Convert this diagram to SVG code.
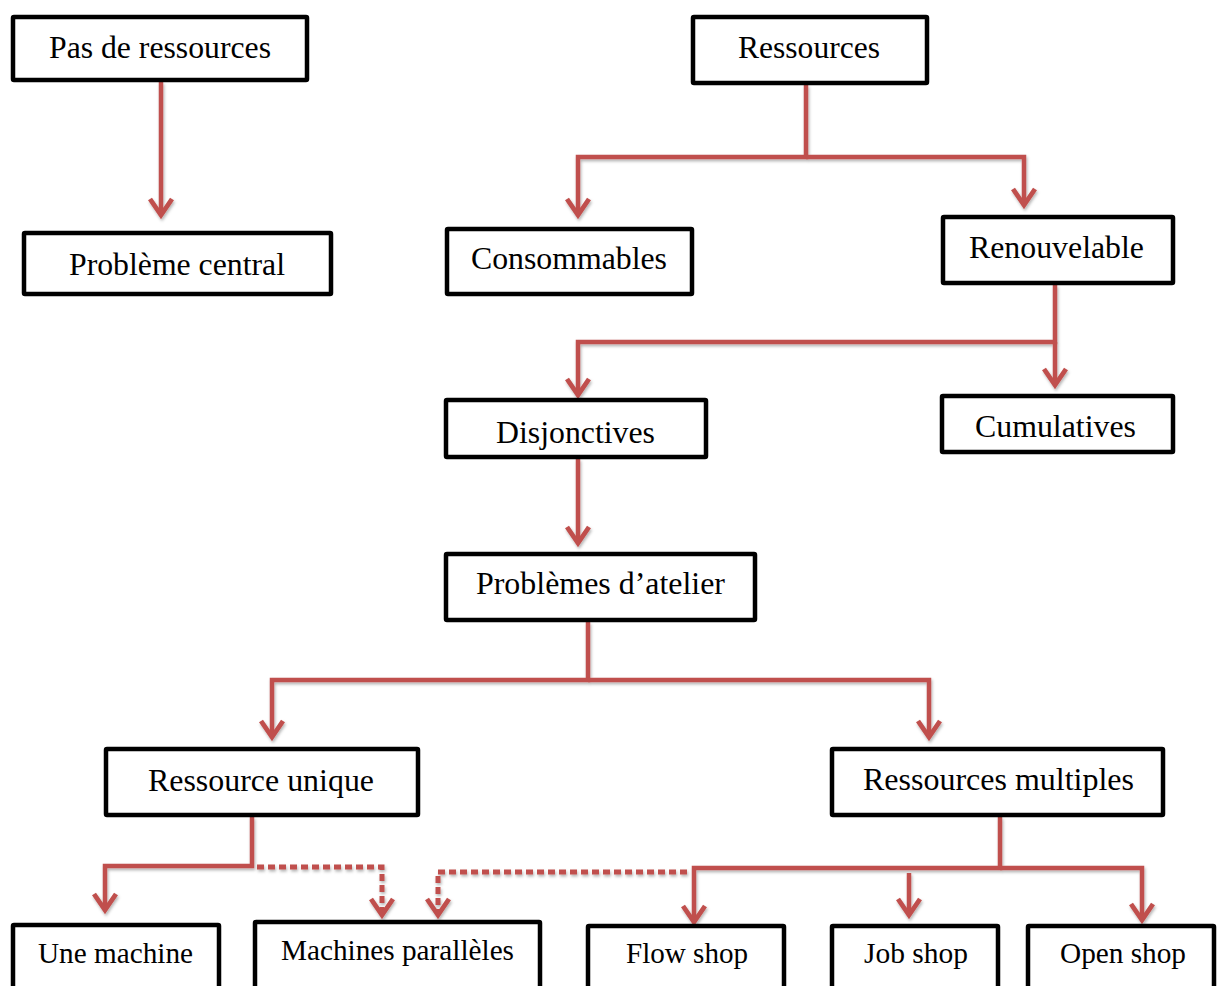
<svg xmlns="http://www.w3.org/2000/svg" width="1217" height="986" viewBox="0 0 1217 986">
<style>
.box{fill:#ffffff;stroke:#000000;stroke-width:4.5;}
.lbl{font-family:"Liberation Serif","Times New Roman",serif;font-size:31px;fill:#000000;}
.sm{font-size:30px;}
.con{fill:none;stroke:#C0504D;stroke-width:4.5;stroke-linejoin:miter;}
.arr{marker-end:url(#chev);}
.dot{stroke-dasharray:7 4;stroke-width:5;}
</style>
<defs>
<marker id="chev" markerUnits="userSpaceOnUse" markerWidth="30" markerHeight="30" viewBox="-20 -15 26 30" refX="-3" refY="0" orient="auto">
<path d="M-16,-11 L0,0 L-16,11" fill="none" stroke="#C0504D" stroke-width="4.8" stroke-linejoin="miter"/>
</marker>
<filter id="sh" x="-10%" y="-10%" width="120%" height="120%">
<feDropShadow dx="1" dy="2" stdDeviation="1.5" flood-color="#000000" flood-opacity="0.3"/>
</filter>
</defs>
<rect width="1217" height="986" fill="#ffffff"/>
<g id="connectors" filter="url(#sh)">
<path class="con arr" d="M161,82 V212"/>
<path class="con arr" d="M806,85 V157 H578 V212"/>
<path class="con arr" d="M806,157 H1024 V202"/>
<path class="con arr" d="M1055,285 V342 H578 V392"/>
<path class="con arr" d="M1055,342 V382"/>
<path class="con arr" d="M578,459 V540"/>
<path class="con arr" d="M588,622 V680 H272 V734"/>
<path class="con arr" d="M588,680 H929 V734"/>
<path class="con arr" d="M252,817 V866 H105 V907"/>
<path class="con dot arr" d="M257,867 H382 V912"/>
<path class="con arr" d="M1000,817 V868 H694 V919"/>
<path class="con arr" d="M1000,868 H1142 V917"/>
<path class="con arr" d="M909,873 V912"/>
<path class="con dot arr" d="M687,872 H438 V912"/>
</g>
<g id="n1"><rect class="box" x="13" y="17" width="294" height="63" rx="1"/><text class="lbl" x="49" y="58" textLength="222" lengthAdjust="spacingAndGlyphs">Pas de ressources</text></g>
<g id="n2"><rect class="box" x="24" y="233" width="307" height="61" rx="1"/><text class="lbl" x="69" y="275" textLength="216" lengthAdjust="spacingAndGlyphs">Problème central</text></g>
<g id="n3"><rect class="box" x="693" y="17" width="234" height="66" rx="1"/><text class="lbl" x="738" y="58" textLength="142" lengthAdjust="spacingAndGlyphs">Ressources</text></g>
<g id="n4"><rect class="box" x="447" y="229" width="245" height="65" rx="1"/><text class="lbl" x="471" y="269" textLength="196" lengthAdjust="spacingAndGlyphs">Consommables</text></g>
<g id="n5"><rect class="box" x="943" y="217" width="230" height="66" rx="1"/><text class="lbl" x="969" y="258" textLength="175" lengthAdjust="spacingAndGlyphs">Renouvelable</text></g>
<g id="n6"><rect class="box" x="446" y="400" width="260" height="57" rx="1"/><text class="lbl" x="496" y="443" textLength="159" lengthAdjust="spacingAndGlyphs">Disjonctives</text></g>
<g id="n7"><rect class="box" x="942" y="396" width="231" height="56" rx="1"/><text class="lbl" x="975" y="437" textLength="161" lengthAdjust="spacingAndGlyphs">Cumulatives</text></g>
<g id="n8"><rect class="box" x="446" y="554" width="309" height="66" rx="1"/><text class="lbl" x="476" y="594" textLength="249" lengthAdjust="spacingAndGlyphs">Problèmes d’atelier</text></g>
<g id="n9"><rect class="box" x="106" y="749" width="312" height="66" rx="1"/><text class="lbl" x="148" y="791" textLength="226" lengthAdjust="spacingAndGlyphs">Ressource unique</text></g>
<g id="n10"><rect class="box" x="832" y="749" width="331" height="66" rx="1"/><text class="lbl" x="863" y="790" textLength="271" lengthAdjust="spacingAndGlyphs">Ressources multiples</text></g>
<g id="n11"><rect class="box" x="13" y="925" width="206" height="70" rx="1"/><text class="lbl sm" x="38" y="963" textLength="155" lengthAdjust="spacingAndGlyphs">Une machine</text></g>
<g id="n12"><rect class="box" x="255" y="922" width="285" height="70" rx="1"/><text class="lbl sm" x="281" y="960" textLength="233" lengthAdjust="spacingAndGlyphs">Machines parallèles</text></g>
<g id="n13"><rect class="box" x="588" y="926" width="196" height="70" rx="1"/><text class="lbl sm" x="626" y="963" textLength="122" lengthAdjust="spacingAndGlyphs">Flow shop</text></g>
<g id="n14"><rect class="box" x="832" y="926" width="166" height="70" rx="1"/><text class="lbl sm" x="864" y="963" textLength="104" lengthAdjust="spacingAndGlyphs">Job shop</text></g>
<g id="n15"><rect class="box" x="1028" y="926" width="186" height="70" rx="1"/><text class="lbl sm" x="1060" y="963" textLength="126" lengthAdjust="spacingAndGlyphs">Open shop</text></g>
</svg>
